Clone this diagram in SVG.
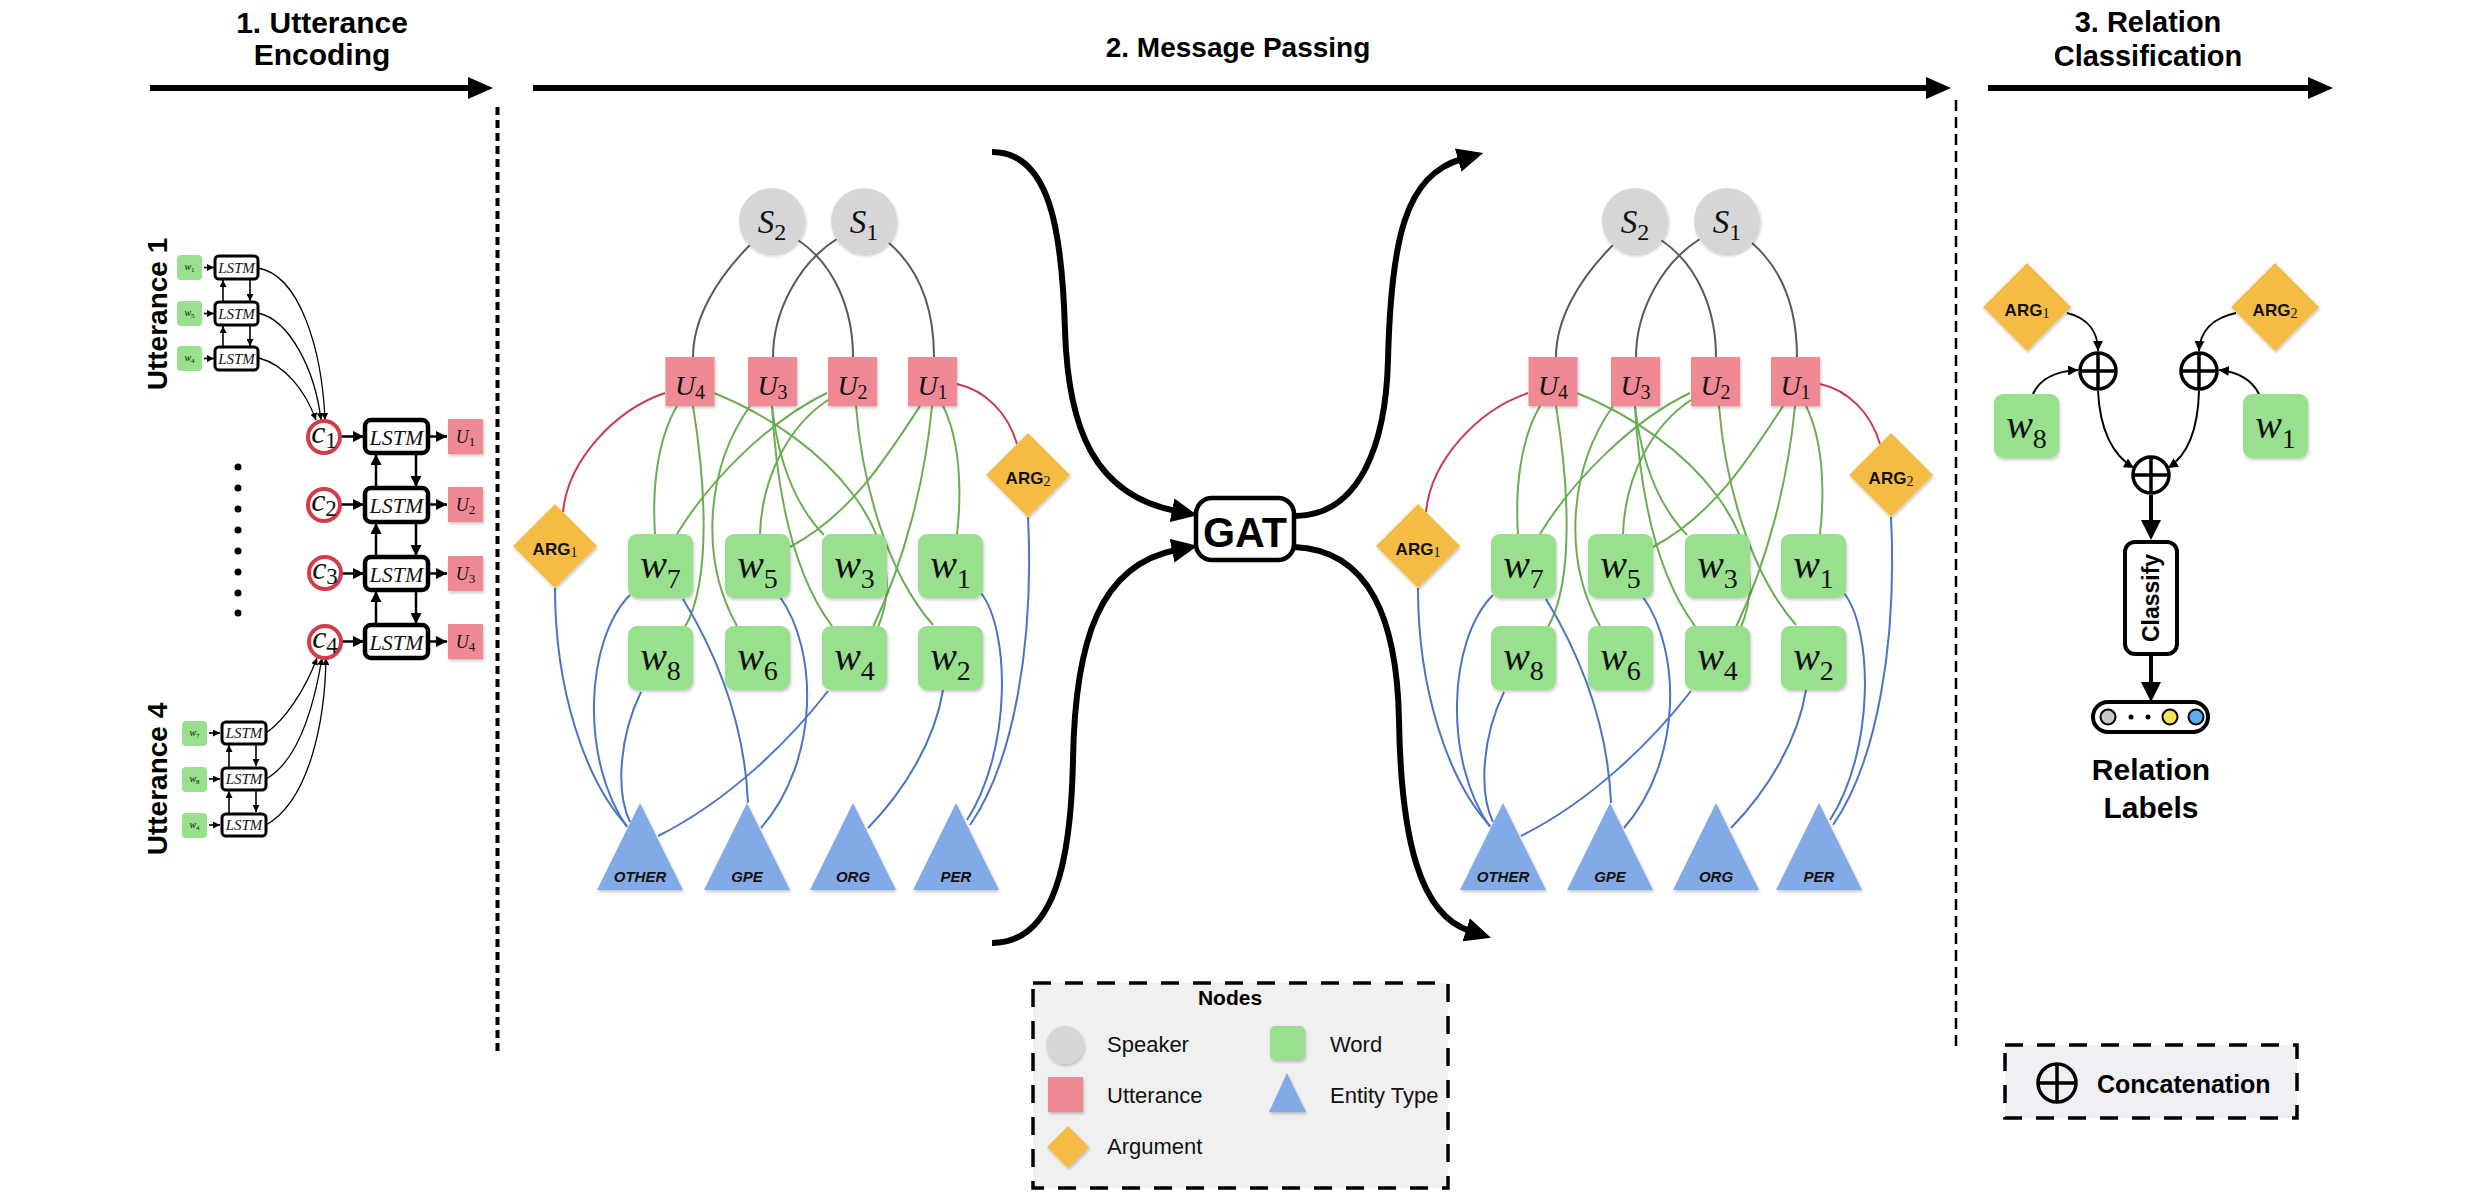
<svg xmlns="http://www.w3.org/2000/svg" width="2482" height="1198" viewBox="0 0 2482 1198">
<defs>
<style>
.t{font-family:"Liberation Sans",Arial,sans-serif;font-weight:bold;fill:#000}
.n{font-family:"Liberation Sans",Arial,sans-serif;fill:#111}
.m{font-family:"Liberation Serif","Times New Roman",serif;font-style:italic;fill:#111}
.sb{font-style:normal}
.spk{fill:#d6d6d6}
.utt{fill:#ef8a94}
.wrd{fill:#98e08e}
.arg{fill:#f5bc45}
.ent{fill:#82aae6}
.ge{stroke:#6aad52;stroke-width:2;fill:none}
.be{stroke:#4a73c9;stroke-width:2;fill:none}
.re{stroke:#cc3a4f;stroke-width:2;fill:none}
.ke{stroke:#5a5a5a;stroke-width:2;fill:none}
.lstm{fill:#fff;stroke:#000}
.ci{fill:#fff;stroke:#d43a48;stroke-width:4}
.bk{stroke:#000;fill:none}
.lab{font-family:"Liberation Sans",Arial,sans-serif;font-weight:bold;fill:#111}
.dash{fill:none;stroke:#000;stroke-width:3.5;stroke-dasharray:18 14}
.sg{fill:none;stroke:#000;stroke-width:3.5}
</style>
<filter id="sh" x="-20%" y="-20%" width="150%" height="150%"><feDropShadow dx="1" dy="2" stdDeviation="1.5" flood-color="#000" flood-opacity="0.22"/></filter>
<marker id="mT" viewBox="0 0 8 8" refX="8" refY="4" markerWidth="7" markerHeight="7" orient="auto" markerUnits="userSpaceOnUse"><path d="M0,0 L8,4 L0,8 z"/></marker>
<marker id="mS" viewBox="0 0 10 10" refX="10" refY="5" markerWidth="10" markerHeight="10" orient="auto" markerUnits="userSpaceOnUse"><path d="M0,0 L10,5 L0,10 z"/></marker>
<marker id="mM" viewBox="0 0 12 12" refX="12" refY="6" markerWidth="11" markerHeight="11" orient="auto" markerUnits="userSpaceOnUse"><path d="M0,0 L12,6 L0,12 z"/></marker>
<marker id="mB" viewBox="0 0 26 24" refX="4" refY="12" markerWidth="26" markerHeight="24" orient="auto" markerUnits="userSpaceOnUse"><path d="M0,0 L26,12 L0,24 z"/></marker>
<marker id="mC" viewBox="0 0 20 20" refX="4" refY="10" markerWidth="20" markerHeight="20" orient="auto" markerUnits="userSpaceOnUse"><path d="M0,0 L20,10 L0,20 z"/></marker>
</defs>
<rect width="2482" height="1198" fill="#fff"/>

<!-- section headers -->
<g id="headers">
<text class="t" font-size="30" x="322" y="33" text-anchor="middle">1. Utterance</text>
<text class="t" font-size="30" x="322" y="65" text-anchor="middle">Encoding</text>
<text class="t" font-size="28" x="1238" y="57" text-anchor="middle">2. Message Passing</text>
<text class="t" font-size="29" x="2148" y="32" text-anchor="middle">3. Relation</text>
<text class="t" font-size="29" x="2148" y="66" text-anchor="middle">Classification</text>
<line x1="150" y1="88" x2="470" y2="88" stroke="#000" stroke-width="6"/>
<polygon points="468,77 493,88 468,99"/>
<line x1="533" y1="88" x2="1928" y2="88" stroke="#000" stroke-width="6"/>
<polygon points="1926,77 1951,88 1926,99"/>
<line x1="1988" y1="88" x2="2310" y2="88" stroke="#000" stroke-width="6"/>
<polygon points="2308,77 2333,88 2308,99"/>
<line x1="497.5" y1="107" x2="497.5" y2="1055" stroke="#000" stroke-width="4" stroke-dasharray="8 5"/>
<line x1="1956" y1="100" x2="1956" y2="1047" stroke="#000" stroke-width="2.5" stroke-dasharray="11 6"/>
</g>

<!-- connectors -->
<g id="connectors">
 <g id="enc-arrows" class="bk">
  <g stroke-width="1.6" marker-end="url(#mT)">
   <path d="M204,267.5 H214"/><path d="M204,313.5 H214"/><path d="M204,358.5 H214"/>
   <path d="M209,733 H220"/><path d="M209,779 H220"/><path d="M209,825 H220"/>
   <path d="M223,302 V280"/><path d="M223,347 V326"/>
   <path d="M250,279 V301"/><path d="M250,325 V346"/>
   <path d="M229,767 V745"/><path d="M229,813 V791"/>
   <path d="M256,744 V766"/><path d="M256,790 V812"/>
  </g>
  <g stroke-width="1.3" marker-end="url(#mT)">
   <path d="M258,268 C300,275 322,350 325,420"/>
   <path d="M258,313 C290,320 315,370 321,420"/>
   <path d="M259,358 C285,365 305,390 316,420"/>
   <path d="M266,733 C285,720 305,690 317,658"/>
   <path d="M266,779 C300,760 315,700 322,658"/>
   <path d="M266,825 C310,800 325,720 326,658"/>
  </g>
  <g stroke-width="2.5" marker-end="url(#mM)">
   <path d="M341,436.5 H364"/><path d="M341,504.5 H364"/><path d="M341,573.5 H364"/><path d="M341,641.5 H364"/>
   <path d="M429,436.5 H447"/><path d="M429,504.5 H447"/><path d="M429,573.5 H447"/><path d="M429,641.5 H447"/>
   <path d="M376,488 V454"/><path d="M376,557 V523"/><path d="M376,625 V591"/>
   <path d="M416,453 V487"/><path d="M416,522 V556"/><path d="M416,590 V624"/>
  </g>
 </g>
 <g id="edges-graph1">
  <g class="ke">
   <path d="M750,245 C715,280 693,320 693,357"/><path d="M798,240 C835,265 853,310 853,357"/>
   <path d="M837,239 C800,262 773,310 773,357"/><path d="M889,243 C920,270 934,310 934,357"/>
  </g>
  <g class="re">
   <path d="M665,393 C615,410 568,460 563,512"/><path d="M957,384 C985,390 1008,413 1017,444"/>
  </g>
  <g class="ge">
   <path d="M677,406 C657,440 652,490 655,534"/><path d="M693,406 C705,480 712,580 685,627"/>
   <path d="M714,393 C830,440 915,540 878,627"/><path d="M750,406 C705,470 700,560 737,626"/>
   <path d="M772,406 C776,480 790,570 832,626"/><path d="M772,406 C778,460 795,505 824,535"/>
   <path d="M827,393 C770,420 710,480 677,534"/><path d="M828,400 C790,425 762,475 760,534"/>
   <path d="M856,406 C862,480 885,570 933,625"/><path d="M920,406 C885,460 850,515 790,547"/>
   <path d="M932,406 C925,480 905,560 873,627"/><path d="M943,406 C960,440 962,490 957,534"/>
  </g>
  <g class="be">
   <path d="M555,588 C555,690 585,780 627,826"/><path d="M630,595 C585,640 580,760 627,827"/>
   <path d="M641,692 C620,735 615,790 630,822"/><path d="M828,691 C790,740 730,800 658,836"/>
   <path d="M683,599 C720,660 745,730 748,803"/><path d="M780,597 C818,650 820,760 761,828"/>
   <path d="M943,690 C935,740 905,790 868,828"/><path d="M981,593 C1010,630 1012,750 967,820"/>
   <path d="M1028,517 C1034,640 1015,760 970,825"/>
  </g>
 </g>
 <g id="edges-graph2" transform="translate(863,0)">
  <g class="ke">
   <path d="M750,245 C715,280 693,320 693,357"/><path d="M798,240 C835,265 853,310 853,357"/>
   <path d="M837,239 C800,262 773,310 773,357"/><path d="M889,243 C920,270 934,310 934,357"/>
  </g>
  <g class="re">
   <path d="M665,393 C615,410 568,460 563,512"/><path d="M957,384 C985,390 1008,413 1017,444"/>
  </g>
  <g class="ge">
   <path d="M677,406 C657,440 652,490 655,534"/><path d="M693,406 C705,480 712,580 685,627"/>
   <path d="M714,393 C830,440 915,540 878,627"/><path d="M750,406 C705,470 700,560 737,626"/>
   <path d="M772,406 C776,480 790,570 832,626"/><path d="M772,406 C778,460 795,505 824,535"/>
   <path d="M827,393 C770,420 710,480 677,534"/><path d="M828,400 C790,425 762,475 760,534"/>
   <path d="M856,406 C862,480 885,570 933,625"/><path d="M920,406 C885,460 850,515 790,547"/>
   <path d="M932,406 C925,480 905,560 873,627"/><path d="M943,406 C960,440 962,490 957,534"/>
  </g>
  <g class="be">
   <path d="M555,588 C555,690 585,780 627,826"/><path d="M630,595 C585,640 580,760 627,827"/>
   <path d="M641,692 C620,735 615,790 630,822"/><path d="M828,691 C790,740 730,800 658,836"/>
   <path d="M683,599 C720,660 745,730 748,803"/><path d="M780,597 C818,650 820,760 761,828"/>
   <path d="M943,690 C935,740 905,790 868,828"/><path d="M981,593 C1010,630 1012,750 967,820"/>
   <path d="M1028,517 C1034,640 1015,760 970,825"/>
  </g>
 </g>
 <g id="gat-arrows" class="bk" stroke-width="6" marker-end="url(#mB)">
  <path d="M992,152 C1050,152 1062,230 1065,330 C1068,430 1095,495 1176,511"/>
  <path d="M992,943 C1055,943 1071,860 1073,760 C1075,640 1100,565 1176,550"/>
  <path d="M1294,516 C1362,516 1386,440 1388,360 C1391,240 1405,175 1462,159"/>
  <path d="M1294,547 C1370,550 1397,620 1399,720 C1401,840 1420,915 1470,931"/>
 </g>
 <g id="rc-arrows" class="bk">
  <g stroke-width="2" marker-end="url(#mS)">
   <path d="M2067,313 C2088,318 2098,332 2098,351"/>
   <path d="M2033,394 C2040,378 2058,371 2078,370"/>
   <path d="M2236,313 C2212,318 2200,332 2199,351"/>
   <path d="M2259,394 C2252,380 2238,372 2219,370"/>
   <path d="M2098,391 C2100,430 2112,455 2134,468"/>
   <path d="M2199,391 C2198,430 2188,455 2168,468"/>
  </g>
  <g stroke-width="4" marker-end="url(#mC)">
   <path d="M2151,495 V524"/>
   <path d="M2151,654 V686"/>
  </g>
 </g>
</g>

<!-- utterance encoding nodes -->
<g id="encoder">
 <g id="label-utt1"><text class="t" font-size="28" transform="translate(167,314) rotate(-90)" text-anchor="middle">Utterance 1</text></g>
 <g id="label-utt4"><text class="t" font-size="28" transform="translate(167,779) rotate(-90)" text-anchor="middle">Utterance 4</text></g>
 <g id="u1-w1"><rect class="wrd" x="177" y="255" width="25" height="25" rx="4"/><text class="m" x="189.5" y="270" font-size="10" text-anchor="middle">w<tspan class="sb" font-size="7" dy="2">1</tspan></text></g>
 <g id="u1-w5"><rect class="wrd" x="177" y="301" width="25" height="25" rx="4"/><text class="m" x="189.5" y="316" font-size="10" text-anchor="middle">w<tspan class="sb" font-size="7" dy="2">5</tspan></text></g>
 <g id="u1-w4"><rect class="wrd" x="177" y="346" width="25" height="25" rx="4"/><text class="m" x="189.5" y="361" font-size="10" text-anchor="middle">w<tspan class="sb" font-size="7" dy="2">4</tspan></text></g>
 <g id="u1-lstm1"><rect class="lstm" x="215" y="256" width="43" height="23" rx="4" stroke-width="3"/><text class="m" x="236.5" y="273" font-size="15" text-anchor="middle">LSTM</text></g>
 <g id="u1-lstm2"><rect class="lstm" x="215" y="302" width="43" height="23" rx="4" stroke-width="3"/><text class="m" x="236.5" y="319" font-size="15" text-anchor="middle">LSTM</text></g>
 <g id="u1-lstm3"><rect class="lstm" x="215" y="347" width="43" height="23" rx="4" stroke-width="3"/><text class="m" x="236.5" y="364" font-size="15" text-anchor="middle">LSTM</text></g>
 <g id="u4-w7"><rect class="wrd" x="182" y="721" width="25" height="25" rx="4"/><text class="m" x="194.5" y="736" font-size="10" text-anchor="middle">w<tspan class="sb" font-size="7" dy="2">7</tspan></text></g>
 <g id="u4-w8"><rect class="wrd" x="182" y="767" width="25" height="25" rx="4"/><text class="m" x="194.5" y="782" font-size="10" text-anchor="middle">w<tspan class="sb" font-size="7" dy="2">8</tspan></text></g>
 <g id="u4-w4"><rect class="wrd" x="182" y="813" width="25" height="25" rx="4"/><text class="m" x="194.5" y="828" font-size="10" text-anchor="middle">w<tspan class="sb" font-size="7" dy="2">4</tspan></text></g>
 <g id="u4-lstm1"><rect class="lstm" x="222" y="722" width="44" height="22" rx="4" stroke-width="3"/><text class="m" x="244" y="738" font-size="15" text-anchor="middle">LSTM</text></g>
 <g id="u4-lstm2"><rect class="lstm" x="222" y="768" width="44" height="22" rx="4" stroke-width="3"/><text class="m" x="244" y="784" font-size="15" text-anchor="middle">LSTM</text></g>
 <g id="u4-lstm3"><rect class="lstm" x="222" y="814" width="44" height="22" rx="4" stroke-width="3"/><text class="m" x="244" y="830" font-size="15" text-anchor="middle">LSTM</text></g>
 <g id="ellipsis" fill="#000">
  <circle cx="238" cy="467" r="3.5"/><circle cx="238" cy="488" r="3.5"/><circle cx="238" cy="509" r="3.5"/><circle cx="238" cy="530" r="3.5"/>
  <circle cx="238" cy="551" r="3.5"/><circle cx="238" cy="572" r="3.5"/><circle cx="238" cy="593" r="3.5"/><circle cx="238" cy="613" r="3.5"/>
 </g>
 <g id="c1"><circle class="ci" cx="324" cy="437" r="16"/><text class="m" x="324" y="443" font-size="32" text-anchor="middle">c<tspan class="sb" font-size="23" dy="5">1</tspan></text></g>
 <g id="c2"><circle class="ci" cx="324" cy="505" r="16"/><text class="m" x="324" y="511" font-size="32" text-anchor="middle">c<tspan class="sb" font-size="23" dy="5">2</tspan></text></g>
 <g id="c3"><circle class="ci" cx="325" cy="573" r="16"/><text class="m" x="325" y="579" font-size="32" text-anchor="middle">c<tspan class="sb" font-size="23" dy="5">3</tspan></text></g>
 <g id="c4"><circle class="ci" cx="325" cy="642" r="16"/><text class="m" x="325" y="648" font-size="32" text-anchor="middle">c<tspan class="sb" font-size="23" dy="5">4</tspan></text></g>
 <g id="lstm-a"><rect class="lstm" x="365" y="420" width="63" height="33" rx="6" stroke-width="4.5"/><text class="m" x="396.5" y="445" font-size="22" text-anchor="middle">LSTM</text></g>
 <g id="lstm-b"><rect class="lstm" x="365" y="488" width="63" height="34" rx="6" stroke-width="4.5"/><text class="m" x="396.5" y="513" font-size="22" text-anchor="middle">LSTM</text></g>
 <g id="lstm-c"><rect class="lstm" x="365" y="557" width="63" height="33" rx="6" stroke-width="4.5"/><text class="m" x="396.5" y="582" font-size="22" text-anchor="middle">LSTM</text></g>
 <g id="lstm-d"><rect class="lstm" x="365" y="625" width="63" height="33" rx="6" stroke-width="4.5"/><text class="m" x="396.5" y="650" font-size="22" text-anchor="middle">LSTM</text></g>
 <g id="enc-U1"><rect class="utt" x="448" y="419" width="35" height="35" filter="url(#sh)"/><text class="m" x="465.5" y="443" font-size="18" text-anchor="middle">U<tspan class="sb" font-size="13" dy="3">1</tspan></text></g>
 <g id="enc-U2"><rect class="utt" x="448" y="487" width="35" height="35" filter="url(#sh)"/><text class="m" x="465.5" y="511" font-size="18" text-anchor="middle">U<tspan class="sb" font-size="13" dy="3">2</tspan></text></g>
 <g id="enc-U3"><rect class="utt" x="448" y="556" width="35" height="35" filter="url(#sh)"/><text class="m" x="465.5" y="580" font-size="18" text-anchor="middle">U<tspan class="sb" font-size="13" dy="3">3</tspan></text></g>
 <g id="enc-U4"><rect class="utt" x="448" y="624" width="35" height="35" filter="url(#sh)"/><text class="m" x="465.5" y="648" font-size="18" text-anchor="middle">U<tspan class="sb" font-size="13" dy="3">4</tspan></text></g>
</g>

<!-- graph 1 (before GAT) -->
<g id="graph1">
 <g id="g1-S2"><circle class="spk" cx="772" cy="221" r="33" filter="url(#sh)"/><text class="m" x="772" y="233" font-size="33" text-anchor="middle">S<tspan class="sb" font-size="24" dy="7">2</tspan></text></g>
 <g id="g1-S1"><circle class="spk" cx="864" cy="221" r="33" filter="url(#sh)"/><text class="m" x="864" y="233" font-size="33" text-anchor="middle">S<tspan class="sb" font-size="24" dy="7">1</tspan></text></g>
 <g id="g1-U4"><rect class="utt" x="665.5" y="357" width="49" height="49" filter="url(#sh)"/><text class="m" x="690" y="395" font-size="28" text-anchor="middle">U<tspan class="sb" font-size="20" dy="4">4</tspan></text></g>
 <g id="g1-U3"><rect class="utt" x="748" y="357" width="49" height="49" filter="url(#sh)"/><text class="m" x="772.5" y="395" font-size="28" text-anchor="middle">U<tspan class="sb" font-size="20" dy="4">3</tspan></text></g>
 <g id="g1-U2"><rect class="utt" x="828" y="357" width="49" height="49" filter="url(#sh)"/><text class="m" x="852.5" y="395" font-size="28" text-anchor="middle">U<tspan class="sb" font-size="20" dy="4">2</tspan></text></g>
 <g id="g1-U1"><rect class="utt" x="908" y="357" width="49" height="49" filter="url(#sh)"/><text class="m" x="932.5" y="395" font-size="28" text-anchor="middle">U<tspan class="sb" font-size="20" dy="4">1</tspan></text></g>
 <g id="g1-ARG1"><polygon class="arg" points="555,504 597,546 555,588 513,546" filter="url(#sh)"/><text class="lab" x="555" y="555" font-size="17" text-anchor="middle">ARG<tspan font-family="Liberation Serif,serif" font-weight="normal" font-size="14" dy="2">1</tspan></text></g>
 <g id="g1-ARG2"><polygon class="arg" points="1028,433 1070,475 1028,517 986,475" filter="url(#sh)"/><text class="lab" x="1028" y="484" font-size="17" text-anchor="middle">ARG<tspan font-family="Liberation Serif,serif" font-weight="normal" font-size="14" dy="2">2</tspan></text></g>
 <g id="g1-w7"><rect class="wrd" x="628" y="534" width="65" height="64" rx="9" filter="url(#sh)"/><text class="m" x="660.5" y="578" font-size="40" text-anchor="middle">w<tspan class="sb" font-size="28" dy="10">7</tspan></text></g>
 <g id="g1-w5"><rect class="wrd" x="725" y="534" width="65" height="64" rx="9" filter="url(#sh)"/><text class="m" x="757.5" y="578" font-size="40" text-anchor="middle">w<tspan class="sb" font-size="28" dy="10">5</tspan></text></g>
 <g id="g1-w3"><rect class="wrd" x="822" y="534" width="65" height="64" rx="9" filter="url(#sh)"/><text class="m" x="854.5" y="578" font-size="40" text-anchor="middle">w<tspan class="sb" font-size="28" dy="10">3</tspan></text></g>
 <g id="g1-w1"><rect class="wrd" x="918" y="534" width="65" height="64" rx="9" filter="url(#sh)"/><text class="m" x="950.5" y="578" font-size="40" text-anchor="middle">w<tspan class="sb" font-size="28" dy="10">1</tspan></text></g>
 <g id="g1-w8"><rect class="wrd" x="628" y="626" width="65" height="64" rx="9" filter="url(#sh)"/><text class="m" x="660.5" y="670" font-size="40" text-anchor="middle">w<tspan class="sb" font-size="28" dy="10">8</tspan></text></g>
 <g id="g1-w6"><rect class="wrd" x="725" y="626" width="65" height="64" rx="9" filter="url(#sh)"/><text class="m" x="757.5" y="670" font-size="40" text-anchor="middle">w<tspan class="sb" font-size="28" dy="10">6</tspan></text></g>
 <g id="g1-w4"><rect class="wrd" x="822" y="626" width="65" height="64" rx="9" filter="url(#sh)"/><text class="m" x="854.5" y="670" font-size="40" text-anchor="middle">w<tspan class="sb" font-size="28" dy="10">4</tspan></text></g>
 <g id="g1-w2"><rect class="wrd" x="918" y="626" width="65" height="64" rx="9" filter="url(#sh)"/><text class="m" x="950.5" y="670" font-size="40" text-anchor="middle">w<tspan class="sb" font-size="28" dy="10">2</tspan></text></g>
 <g id="g1-OTHER"><polygon class="ent" points="640,803 683,890 597,890" filter="url(#sh)"/><text class="lab" font-style="italic" x="640" y="882" font-size="15" text-anchor="middle">OTHER</text></g>
 <g id="g1-GPE"><polygon class="ent" points="747,803 790,890 704,890" filter="url(#sh)"/><text class="lab" font-style="italic" x="747" y="882" font-size="15" text-anchor="middle">GPE</text></g>
 <g id="g1-ORG"><polygon class="ent" points="853,803 896,890 810,890" filter="url(#sh)"/><text class="lab" font-style="italic" x="853" y="882" font-size="15" text-anchor="middle">ORG</text></g>
 <g id="g1-PER"><polygon class="ent" points="956,803 999,890 913,890" filter="url(#sh)"/><text class="lab" font-style="italic" x="956" y="882" font-size="15" text-anchor="middle">PER</text></g>
</g>

<!-- GAT -->
<g id="GAT"><rect x="1196" y="498" width="98" height="62" rx="16" fill="#fff" stroke="#000" stroke-width="4.5"/><text class="t" x="1245" y="547" font-size="42" text-anchor="middle" textLength="84" lengthAdjust="spacingAndGlyphs">GAT</text></g>

<!-- graph 2 (after GAT) -->
<g id="graph2" transform="translate(863,0)">
 <g id="g2-S2"><circle class="spk" cx="772" cy="221" r="33" filter="url(#sh)"/><text class="m" x="772" y="233" font-size="33" text-anchor="middle">S<tspan class="sb" font-size="24" dy="7">2</tspan></text></g>
 <g id="g2-S1"><circle class="spk" cx="864" cy="221" r="33" filter="url(#sh)"/><text class="m" x="864" y="233" font-size="33" text-anchor="middle">S<tspan class="sb" font-size="24" dy="7">1</tspan></text></g>
 <g id="g2-U4"><rect class="utt" x="665.5" y="357" width="49" height="49" filter="url(#sh)"/><text class="m" x="690" y="395" font-size="28" text-anchor="middle">U<tspan class="sb" font-size="20" dy="4">4</tspan></text></g>
 <g id="g2-U3"><rect class="utt" x="748" y="357" width="49" height="49" filter="url(#sh)"/><text class="m" x="772.5" y="395" font-size="28" text-anchor="middle">U<tspan class="sb" font-size="20" dy="4">3</tspan></text></g>
 <g id="g2-U2"><rect class="utt" x="828" y="357" width="49" height="49" filter="url(#sh)"/><text class="m" x="852.5" y="395" font-size="28" text-anchor="middle">U<tspan class="sb" font-size="20" dy="4">2</tspan></text></g>
 <g id="g2-U1"><rect class="utt" x="908" y="357" width="49" height="49" filter="url(#sh)"/><text class="m" x="932.5" y="395" font-size="28" text-anchor="middle">U<tspan class="sb" font-size="20" dy="4">1</tspan></text></g>
 <g id="g2-ARG1"><polygon class="arg" points="555,504 597,546 555,588 513,546" filter="url(#sh)"/><text class="lab" x="555" y="555" font-size="17" text-anchor="middle">ARG<tspan font-family="Liberation Serif,serif" font-weight="normal" font-size="14" dy="2">1</tspan></text></g>
 <g id="g2-ARG2"><polygon class="arg" points="1028,433 1070,475 1028,517 986,475" filter="url(#sh)"/><text class="lab" x="1028" y="484" font-size="17" text-anchor="middle">ARG<tspan font-family="Liberation Serif,serif" font-weight="normal" font-size="14" dy="2">2</tspan></text></g>
 <g id="g2-w7"><rect class="wrd" x="628" y="534" width="65" height="64" rx="9" filter="url(#sh)"/><text class="m" x="660.5" y="578" font-size="40" text-anchor="middle">w<tspan class="sb" font-size="28" dy="10">7</tspan></text></g>
 <g id="g2-w5"><rect class="wrd" x="725" y="534" width="65" height="64" rx="9" filter="url(#sh)"/><text class="m" x="757.5" y="578" font-size="40" text-anchor="middle">w<tspan class="sb" font-size="28" dy="10">5</tspan></text></g>
 <g id="g2-w3"><rect class="wrd" x="822" y="534" width="65" height="64" rx="9" filter="url(#sh)"/><text class="m" x="854.5" y="578" font-size="40" text-anchor="middle">w<tspan class="sb" font-size="28" dy="10">3</tspan></text></g>
 <g id="g2-w1"><rect class="wrd" x="918" y="534" width="65" height="64" rx="9" filter="url(#sh)"/><text class="m" x="950.5" y="578" font-size="40" text-anchor="middle">w<tspan class="sb" font-size="28" dy="10">1</tspan></text></g>
 <g id="g2-w8"><rect class="wrd" x="628" y="626" width="65" height="64" rx="9" filter="url(#sh)"/><text class="m" x="660.5" y="670" font-size="40" text-anchor="middle">w<tspan class="sb" font-size="28" dy="10">8</tspan></text></g>
 <g id="g2-w6"><rect class="wrd" x="725" y="626" width="65" height="64" rx="9" filter="url(#sh)"/><text class="m" x="757.5" y="670" font-size="40" text-anchor="middle">w<tspan class="sb" font-size="28" dy="10">6</tspan></text></g>
 <g id="g2-w4"><rect class="wrd" x="822" y="626" width="65" height="64" rx="9" filter="url(#sh)"/><text class="m" x="854.5" y="670" font-size="40" text-anchor="middle">w<tspan class="sb" font-size="28" dy="10">4</tspan></text></g>
 <g id="g2-w2"><rect class="wrd" x="918" y="626" width="65" height="64" rx="9" filter="url(#sh)"/><text class="m" x="950.5" y="670" font-size="40" text-anchor="middle">w<tspan class="sb" font-size="28" dy="10">2</tspan></text></g>
 <g id="g2-OTHER"><polygon class="ent" points="640,803 683,890 597,890" filter="url(#sh)"/><text class="lab" font-style="italic" x="640" y="882" font-size="15" text-anchor="middle">OTHER</text></g>
 <g id="g2-GPE"><polygon class="ent" points="747,803 790,890 704,890" filter="url(#sh)"/><text class="lab" font-style="italic" x="747" y="882" font-size="15" text-anchor="middle">GPE</text></g>
 <g id="g2-ORG"><polygon class="ent" points="853,803 896,890 810,890" filter="url(#sh)"/><text class="lab" font-style="italic" x="853" y="882" font-size="15" text-anchor="middle">ORG</text></g>
 <g id="g2-PER"><polygon class="ent" points="956,803 999,890 913,890" filter="url(#sh)"/><text class="lab" font-style="italic" x="956" y="882" font-size="15" text-anchor="middle">PER</text></g>
</g>

<!-- relation classification -->
<g id="relcls">
 <g id="rc-ARG1"><polygon class="arg" points="2027,263 2071,307 2027,351 1983,307" filter="url(#sh)"/><text class="lab" x="2027" y="316" font-size="17" text-anchor="middle">ARG<tspan font-family="Liberation Serif,serif" font-weight="normal" font-size="14" dy="2">1</tspan></text></g>
 <g id="rc-ARG2"><polygon class="arg" points="2275,263 2319,307 2275,351 2231,307" filter="url(#sh)"/><text class="lab" x="2275" y="316" font-size="17" text-anchor="middle">ARG<tspan font-family="Liberation Serif,serif" font-weight="normal" font-size="14" dy="2">2</tspan></text></g>
 <g id="rc-w8"><rect class="wrd" x="1994" y="394" width="65" height="64" rx="9" filter="url(#sh)"/><text class="m" x="2026.5" y="438" font-size="40" text-anchor="middle">w<tspan class="sb" font-size="28" dy="10">8</tspan></text></g>
 <g id="rc-w1"><rect class="wrd" x="2243" y="394" width="65" height="64" rx="9" filter="url(#sh)"/><text class="m" x="2275.5" y="438" font-size="40" text-anchor="middle">w<tspan class="sb" font-size="28" dy="10">1</tspan></text></g>
 <g id="rc-cat1" class="sg"><circle cx="2098" cy="371" r="18" fill="#fff"/><path d="M2098,353 V389 M2080,371 H2116"/></g>
 <g id="rc-cat2" class="sg"><circle cx="2199" cy="371" r="18" fill="#fff"/><path d="M2199,353 V389 M2181,371 H2217"/></g>
 <g id="rc-cat3" class="sg"><circle cx="2151" cy="475" r="18" fill="#fff"/><path d="M2151,457 V493 M2133,475 H2169"/></g>
 <g id="rc-classify"><rect x="2125" y="542" width="52" height="112" rx="10" fill="#fff" stroke="#000" stroke-width="4"/><text class="t" font-size="23" transform="translate(2159,598) rotate(-90)" text-anchor="middle">Classify</text></g>
 <g id="rc-labels">
  <rect x="2093" y="702" width="115" height="30" rx="15" fill="#fff" stroke="#000" stroke-width="4"/>
  <circle cx="2108" cy="717" r="7.5" fill="#c9c9c9" stroke="#000" stroke-width="2"/>
  <circle cx="2131" cy="717" r="2.5"/><circle cx="2148" cy="717" r="2.5"/>
  <circle cx="2170" cy="717" r="7.5" fill="#f7e25e" stroke="#000" stroke-width="2"/>
  <circle cx="2196" cy="717" r="7.5" fill="#56aef0" stroke="#000" stroke-width="2"/>
  <text class="t" font-size="30" x="2151" y="780" text-anchor="middle">Relation</text>
  <text class="t" font-size="30" x="2151" y="818" text-anchor="middle">Labels</text>
 </g>
</g>

<!-- legends -->
<g id="legend-nodes">
 <rect x="1033" y="983" width="415" height="205" fill="#f0f0f0"/>
 <rect class="dash" x="1033" y="983" width="415" height="205"/>
 <text class="t" font-size="21" x="1230" y="1005" text-anchor="middle">Nodes</text>
 <circle class="spk" cx="1065" cy="1045" r="19" filter="url(#sh)"/>
 <text class="n" font-size="22" x="1107" y="1052">Speaker</text>
 <rect class="utt" x="1048" y="1077" width="35" height="35" filter="url(#sh)"/>
 <text class="n" font-size="22" x="1107" y="1103">Utterance</text>
 <polygon class="arg" points="1068,1126 1089,1147 1068,1168 1047,1147" filter="url(#sh)"/>
 <text class="n" font-size="22" x="1107" y="1154">Argument</text>
 <rect class="wrd" x="1270" y="1026" width="35" height="34" rx="5" filter="url(#sh)"/>
 <text class="n" font-size="22" x="1330" y="1052">Word</text>
 <polygon class="ent" points="1287,1073 1306,1112 1269,1112" filter="url(#sh)"/>
 <text class="n" font-size="22" x="1330" y="1103">Entity Type</text>
</g>
<g id="legend-concat">
 <rect x="2005" y="1045" width="292" height="73" fill="#f0eff3"/>
 <rect class="dash" x="2005" y="1045" width="292" height="73"/>
 <circle class="sg" cx="2057" cy="1083" r="19"/>
 <path class="sg" d="M2057,1064 V1102 M2038,1083 H2076"/>
 <text class="t" font-size="25" x="2097" y="1093">Concatenation</text>
</g>
</svg>
